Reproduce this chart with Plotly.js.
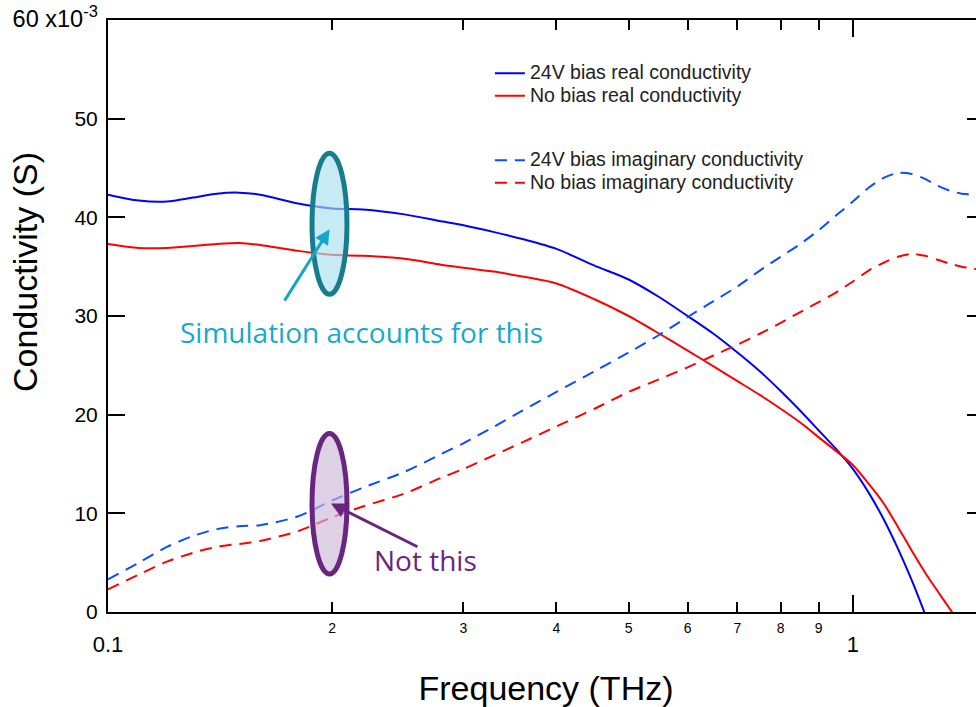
<!DOCTYPE html>
<html>
<head>
<meta charset="utf-8">
<script src="https://cdn.plot.ly/plotly-3.0.1.min.js"></script>
<style>
  html, body { margin: 0; padding: 0; background: #fff; overflow: hidden; }
  #chart { width: 990px; height: 707px; }
</style>
</head>
<body>
<div id="chart"></div>
<script>
// Frequency grid (THz)
const freq = [0.10, 0.11, 0.12, 0.13, 0.14, 0.15, 0.16, 0.18, 0.20, 0.22, 0.25, 0.28, 0.30, 0.33, 0.36,
              0.40, 0.45, 0.50, 0.55, 0.60, 0.65, 0.70, 0.75, 0.80, 0.85, 0.90, 0.95, 1.00, 1.05, 1.10,
              1.15, 1.20, 1.25, 1.30, 1.35, 1.40, 1.45, 1.50];

// Conductivity values, in units of 1e-3 S
const realBias = [42.3, 41.7, 41.6, 42.0, 42.4, 42.5, 42.3, 41.4, 40.9, 40.8, 40.3, 39.6, 39.2, 38.5, 37.8,
                  36.8, 35.1, 33.7, 31.9, 30.0, 28.2, 26.3, 24.4, 22.4, 20.4, 18.4, 16.5, 14.5, 12.1, 9.4,
                  6.4, 3.2, -0.2, -3.6, null, null, null, null];
const realNoBias = [37.3, 36.9, 36.9, 37.1, 37.3, 37.4, 37.2, 36.6, 36.2, 36.1, 35.8, 35.2, 34.9, 34.5, 34.0,
                    33.3, 31.7, 30.0, 28.2, 26.5, 24.9, 23.4, 22.0, 20.6, 19.2, 17.7, 16.3, 14.9, 13.0, 11.0,
                    8.6, 6.2, 4.0, 2.1, 0.3, -1.5, null, null];
const imagBias = [3.3, 5.0, 6.6, 7.7, 8.4, 8.7, 8.8, 9.7, 11.3, 12.6, 14.2, 16.0, 17.1, 18.8, 20.4,
                  22.3, 24.4, 26.3, 28.1, 29.9, 31.5, 33.0, 34.6, 36.0, 37.3, 38.7, 40.2, 41.6, 43.0, 44.0,
                  44.5, 44.4, 43.9, 43.2, 42.7, 42.4, 42.3, 42.2];
const imagNoBias = [2.3, 3.8, 5.1, 6.0, 6.6, 6.9, 7.2, 8.2, 9.6, 10.7, 12.0, 13.6, 14.5, 15.9, 17.2,
                    18.8, 20.6, 22.3, 23.6, 24.8, 26.0, 27.1, 28.2, 29.3, 30.4, 31.4, 32.4, 33.5, 34.6, 35.4,
                    36.0, 36.3, 36.1, 35.7, 35.3, 35.0, 34.8, 34.6];

const seriesNames = ['24V bias real conductivity', 'No bias real conductivity',
                     '24V bias imaginary conductivity', 'No bias imaginary conductivity'];

// Axis ticks
const yTickVals = [0, 10, 20, 30, 40, 50, 60];
const yTickText = ['0', '10', '20', '30', '40', '50',
                   '<span style="font-size:23.5px">60 x10<sup>-3</sup></span>'];
const xMinorVals = [0.2, 0.3, 0.4, 0.5, 0.6, 0.7, 0.8, 0.9];
const xMinorText = ['2', '3', '4', '5', '6', '7', '8', '9'];
const xMajorVals = [0.1, 1];
const xMajorText = ['0.1', '1'];

const BLUE = '#0000ff', RED = '#ff0000', BLUE_D = '#0a4dff';
const CYAN = '#14a7ca', TEAL = '#177d8c', PURPLE = '#6a2580';

// legend rows stay tightly spaced while the label text is drawn larger
const legendLabel = s => '<span style="font-size:19.5px">' + s + '</span>';

function trace(y, name, color, dash, group) {
  return {
    x: freq, y: y, name: legendLabel(name), type: 'scatter', mode: 'lines', legendgroup: group,
    line: { color: color, width: 2, dash: dash, shape: 'spline', smoothing: 0.8 },
    connectgaps: false, hoverinfo: 'skip'
  };
}

const data = [
  trace(realBias, seriesNames[0], BLUE, 'solid', 'real'),
  trace(realNoBias, seriesNames[1], RED, 'solid', 'real'),
  trace(imagBias, seriesNames[2], BLUE_D, '12px,8px', 'imag'),
  trace(imagNoBias, seriesNames[3], RED, '12px,8px', 'imag'),
  // empty trace so the overlay axis carrying the decade labels gets drawn
  { x: [], y: [], xaxis: 'x2', yaxis: 'y', type: 'scatter', mode: 'lines', showlegend: false, hoverinfo: 'skip' }
];

const font = 'Arial, "Liberation Sans", sans-serif';
const xRange = [-1, Math.log10(1.5)];

const layout = {
  width: 990, height: 707,
  margin: { l: 108, r: 6, t: 20, b: 95 },
  paper_bgcolor: '#fff', plot_bgcolor: '#fff',
  font: { family: font, color: '#000' },
  showlegend: true,
  legend: {
    x: 0.436, y: 0.9375, xanchor: 'left', yanchor: 'top',
    bgcolor: 'rgba(0,0,0,0)', font: { size: 15, color: '#222', family: font },
    traceorder: 'grouped', tracegroupgap: 42
  },
  xaxis: {
    type: 'log', range: xRange, showgrid: false, zeroline: false,
    showline: true, linecolor: '#000', linewidth: 2, mirror: 'ticks',
    ticks: 'inside', ticklen: 10, tickwidth: 2, tickcolor: '#000',
    tickmode: 'array', tickvals: xMinorVals, ticktext: xMinorText,
    tickfont: { size: 14, family: font }, ticklabelstandoff: 2,
    title: { text: 'Frequency (THz)', font: { size: 34, family: font }, standoff: 42 }
  },
  xaxis2: {
    type: 'log', range: xRange, overlaying: 'x', anchor: 'y', side: 'bottom',
    showgrid: false, zeroline: false, showline: false, mirror: 'ticks',
    ticks: 'inside', ticklen: 17, tickwidth: 2, tickcolor: '#000',
    tickmode: 'array', tickvals: xMajorVals, ticktext: xMajorText,
    tickfont: { size: 22, family: font }, ticklabelstandoff: 17
  },
  yaxis: {
    range: [0, 60], showgrid: false, zeroline: false,
    showline: true, linecolor: '#000', linewidth: 2, mirror: 'ticks',
    ticks: 'inside', ticklen: 17, tickwidth: 2, tickcolor: '#000',
    tickmode: 'array', tickvals: yTickVals, ticktext: yTickText,
    tickfont: { size: 21, family: font }, ticklabelstandoff: 4
  },
  shapes: [
    { type: 'circle', xref: 'paper', yref: 'y', x0: 0.2329, x1: 0.2728, y0: 32.2, y1: 46.5,
      line: { color: TEAL, width: 5 }, fillcolor: 'rgba(170,222,238,0.65)', layer: 'above' },
    { type: 'circle', xref: 'paper', yref: 'y', x0: 0.2329, x1: 0.2728, y0: 3.85, y1: 18.1,
      line: { color: PURPLE, width: 5 }, fillcolor: 'rgba(205,185,215,0.65)', layer: 'above' }
  ],
  annotations: [
    // y-axis title
    { xref: 'paper', yref: 'paper', x: -0.095, y: 0.574, text: 'Conductivity (S)', showarrow: false,
      textangle: -90, xanchor: 'center', yanchor: 'middle', font: { size: 34, family: font, color: '#000' } },
    { xref: 'paper', yref: 'y', x: 0.253, y: 38.8, text: '', showarrow: true,
      ax: -46, ay: 73, arrowcolor: CYAN, arrowwidth: 3, arrowhead: 2, arrowsize: 1 },
    { xref: 'paper', yref: 'y', x: 0.2545, y: 11.0, text: '', showarrow: true,
      ax: 88, ay: 44, arrowcolor: PURPLE, arrowwidth: 3, arrowhead: 2, arrowsize: 1 },
    { xref: 'paper', yref: 'y', x: 0.289, y: 28.4, text: 'Simulation accounts for this', showarrow: false,
      xanchor: 'center', yanchor: 'middle', font: { size: 28, color: '#16a9cc', family: '"Open Sans", sans-serif' } },
    { xref: 'paper', yref: 'y', x: 0.3630, y: 5.3, text: 'Not this', showarrow: false,
      xanchor: 'center', yanchor: 'middle', font: { size: 28, color: PURPLE, family: '"Open Sans", sans-serif' } }
  ]
};

Plotly.newPlot('chart', data, layout, { displayModeBar: false, staticPlot: true });
</script>
</body>
</html>
